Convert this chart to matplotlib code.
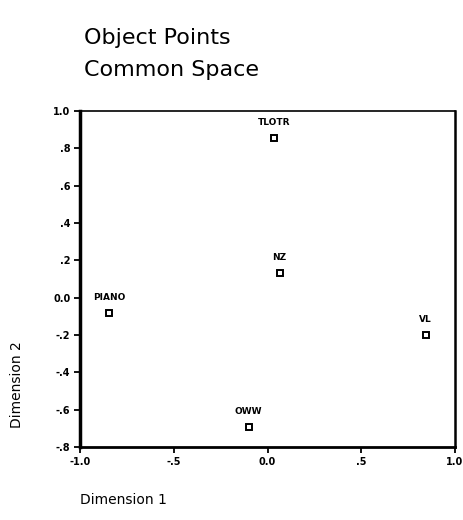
import matplotlib
matplotlib.use("Agg")
import matplotlib.pyplot as plt

# Object coordinates in the common space
names = ["TLOTR", "NZ", "PIANO", "VL", "OWW"]
dim1 = [0.037, 0.064, -0.843, 0.843, -0.101]
dim2 = [0.855, 0.132, -0.082, -0.200, -0.693]

xticks = [-1.0, -0.5, 0.0, 0.5, 1.0]
xticklabels = ["-1.0", "-.5", "0.0", ".5", "1.0"]
yticks = [1.0, 0.8, 0.6, 0.4, 0.2, 0.0, -0.2, -0.4, -0.6, -0.8]
yticklabels = ["1.0", ".8", ".6", ".4", ".2", "0.0", "-.2", "-.4", "-.6", "-.8"]

fig = plt.figure(figsize=(4.64, 5.2), dpi=100)
ax = fig.add_axes([80/464, 1-447/520, 375/464, 336/520])

ax.plot(dim1, dim2, ls="none", marker="s", ms=4.5, mfc="white",
        mec="black", mew=1.4)
for n, x, y in zip(names, dim1, dim2):
    ax.annotate(n, (x, y), xytext=(0, 11.5), textcoords="offset points",
                ha="center", va="center", fontsize=6.5, fontweight="bold")

ax.set_xlim(-1.0, 1.0)
ax.set_ylim(-0.8, 1.0)
ax.set_xticks(xticks)
ax.set_xticklabels(xticklabels)
ax.set_yticks(yticks)
ax.set_yticklabels(yticklabels)
ax.tick_params(direction="out", length=4, width=1.3, labelsize=7, pad=3)
for lab in ax.get_xticklabels() + ax.get_yticklabels():
    lab.set_fontweight("bold")

ax.spines["left"].set_linewidth(2.5)
ax.spines["bottom"].set_linewidth(2.0)
ax.spines["right"].set_linewidth(1.8)
ax.spines["top"].set_linewidth(1.2)

fig.text(84/464, 1-38/520, "Object Points", fontsize=16, va="center", ha="left")
fig.text(84/464, 1-70/520, "Common Space", fontsize=16, va="center", ha="left")
fig.text(80/464, 1-500/520, "Dimension 1", fontsize=10, va="center", ha="left")
fig.text(17/464, 1-385/520, "Dimension 2", fontsize=10, va="center",
         ha="center", rotation=90)

fig.savefig("out.png", dpi=100)
